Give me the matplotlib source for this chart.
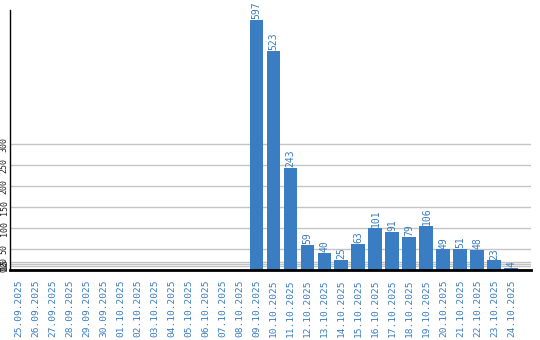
import matplotlib
matplotlib.use("Agg")
import matplotlib.pyplot as plt

dates = [
    "25.09.2025", "26.09.2025", "27.09.2025", "28.09.2025", "29.09.2025",
    "30.09.2025", "01.10.2025", "02.10.2025", "03.10.2025", "04.10.2025",
    "05.10.2025", "06.10.2025", "07.10.2025", "08.10.2025", "09.10.2025",
    "10.10.2025", "11.10.2025", "12.10.2025", "13.10.2025", "14.10.2025",
    "15.10.2025", "16.10.2025", "17.10.2025", "18.10.2025", "19.10.2025",
    "20.10.2025", "21.10.2025", "22.10.2025", "23.10.2025", "24.10.2025",
]
counts = [0] * 14 + [597, 523, 243, 59, 40, 25, 63, 101, 91, 79, 106, 49, 51, 48, 23, 4]
y_ticks = [0, 10, 15, 20, 50, 100, 150, 200, 250, 300]

BLUE = "#3a7dc2"

fig = plt.figure(figsize=(5.4, 3.4), dpi=100)
ax = fig.add_axes([10 / 540, 70 / 340, 521 / 540, 260 / 340])

x = list(range(len(dates)))
ax.bar(x, counts, width=0.82, color=BLUE, zorder=2)

for xi, v in zip(x, counts):
    if v > 0:
        ax.text(xi, v + 2, str(v), rotation=90, ha="center", va="bottom",
                color=BLUE, fontsize=7, family="DejaVu Sans Mono")

ax.set_xlim(-0.5, 30.15)
ax.set_ylim(0, 620)
ax.set_xticks(x)
ax.set_xticklabels(dates, rotation=90, color=BLUE, fontsize=6.8,
                   family="DejaVu Sans Mono")
ax.set_yticks(y_ticks)
ax.set_yticklabels([str(t) for t in y_ticks], rotation=90, fontsize=6,
                   family="DejaVu Sans Mono", va="center", color="#222222")
ax.tick_params(axis="both", length=0)
ax.tick_params(axis="x", pad=7)
ax.tick_params(axis="y", pad=1)
ax.grid(axis="y", color="#c4c4c4", linewidth=1, zorder=0)

ax.spines["top"].set_visible(False)
ax.spines["right"].set_visible(False)
ax.spines["left"].set_linewidth(1)
ax.spines["bottom"].set_linewidth(2)

fig.savefig("out.png", dpi=100)
